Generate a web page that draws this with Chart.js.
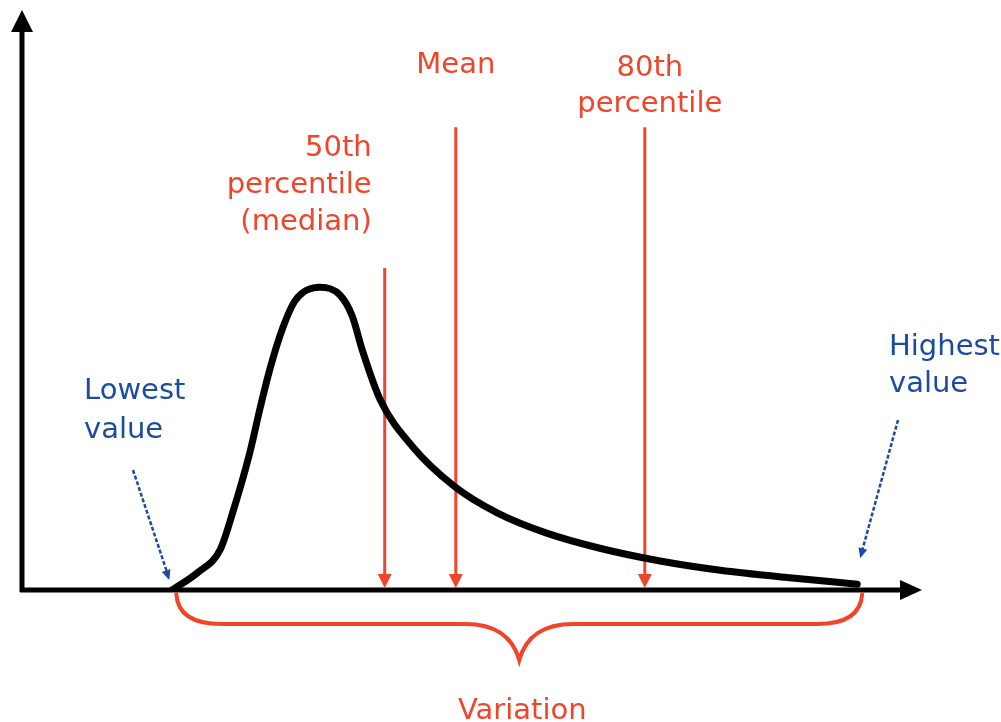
<!DOCTYPE html>
<html>
<head>
<meta charset="utf-8">
<script src="https://cdn.jsdelivr.net/npm/chart.js@4"></script>
<style>
  html, body { margin: 0; padding: 0; background: #fff; }
  canvas { display: block; }
</style>
</head>
<body>
<canvas id="dist" width="1001" height="722"></canvas>
<script>
(function () {
  "use strict";

  // curve (x 0..100 along the axis, y 0..100 up)
  var curveX = [16.7, 19.6, 22.0, 23.4, 25.3, 26.4, 27.6, 29.0, 30.4, 33.1, 35.3, 36.7, 37.8, 39.8, 43.4, 48.1, 52.8, 58.3, 64.2, 70.9, 77.6, 85.3, 92.8];
  var curveY = [0, 3.1, 6.9, 13.3, 23.6, 31.0, 38.4, 45.3, 50.0, 52.2, 50.9, 47.2, 41.4, 32.8, 24.7, 17.8, 13.3, 9.8, 7.2, 5.0, 3.4, 2.1, 1.0];

  // median, mean, 80th percentile
  var markerX = [40.3, 48.2, 69.2];
  var markerTop = [55.5, 79.8, 79.8];
  var markerLabels = [
    ["50th", "percentile", "(median)"],
    ["Mean"],
    ["80th", "percentile"]
  ];
  var lowLabel = ["Lowest", "value"];
  var highLabel = ["Highest", "value"];
  var braceLabel = "Variation";

  var RED = "#f1452b";
  var BLUE = "#1b4c9f";
  var FONT = '29px "DejaVu Sans", Verdana, sans-serif';

  function arrowHead(ctx, x, y, angle, len, half) {
    ctx.save();
    ctx.translate(x, y);
    ctx.rotate(angle);
    ctx.beginPath();
    ctx.moveTo(0, 0);
    ctx.lineTo(-len, -half);
    ctx.lineTo(-len, half);
    ctx.closePath();
    ctx.fill();
    ctx.restore();
  }

  function lines(ctx, arr, x, y0, step, align) {
    ctx.textAlign = align;
    for (var i = 0; i < arr.length; i++) ctx.fillText(arr[i], x, y0 + i * step);
  }

  var diagram = {
    id: "diagram",
    beforeDatasetsDraw: function (chart) {
      var ctx = chart.ctx;
      var xs = chart.scales.x, ys = chart.scales.y;
      var a = chart.chartArea;
      var y0 = ys.getPixelForValue(0);

      ctx.save();
      // axes
      ctx.strokeStyle = "#000";
      ctx.fillStyle = "#000";
      ctx.lineWidth = 5;
      ctx.beginPath();
      ctx.moveTo(a.left - 2, y0);
      ctx.lineTo(a.right - 14, y0);
      ctx.moveTo(a.left, y0 + 2);
      ctx.lineTo(a.left, a.top + 18);
      ctx.stroke();
      arrowHead(ctx, a.right, y0, 0, 22, 10);
      arrowHead(ctx, a.left, a.top, -Math.PI / 2, 22, 11);

      // red marker arrows
      ctx.strokeStyle = RED;
      ctx.fillStyle = RED;
      ctx.lineWidth = 3;
      for (var i = 0; i < markerX.length; i++) {
        var mx = xs.getPixelForValue(markerX[i]);
        var top = ys.getPixelForValue(markerTop[i]);
        ctx.beginPath();
        ctx.moveTo(mx, top);
        ctx.lineTo(mx, y0 - 12);
        ctx.stroke();
        arrowHead(ctx, mx, y0 - 2, Math.PI / 2, 14, 7);
      }
      ctx.restore();
    },
    afterDatasetsDraw: function (chart) {
      var ctx = chart.ctx;
      var xs = chart.scales.x, ys = chart.scales.y;
      var y0 = ys.getPixelForValue(0);
      var lowX = xs.getPixelForValue(curveX[0]);
      var highX = xs.getPixelForValue(curveX[curveX.length - 1]);
      var highY = ys.getPixelForValue(curveY[curveY.length - 1]);

      ctx.save();
      ctx.font = FONT;
      ctx.textBaseline = "middle";

      // red labels
      ctx.fillStyle = RED;
      var m0 = xs.getPixelForValue(markerX[0]);
      var m1 = xs.getPixelForValue(markerX[1]);
      var m2 = xs.getPixelForValue(markerX[2]);
      lines(ctx, markerLabels[0], m0 - 13, 148, 37, "right");
      lines(ctx, markerLabels[1], m1, 65, 37, "center");
      lines(ctx, markerLabels[2], m2 + 5, 68, 36, "center");

      // brace
      var bl = lowX + 4, br = highX + 5, by = y0 + 34, mid = (bl + br) / 2, tip = y0 + 70;
      ctx.strokeStyle = RED;
      ctx.lineWidth = 4;
      ctx.lineCap = "round";
      ctx.beginPath();
      ctx.moveTo(bl, y0 + 4);
      ctx.quadraticCurveTo(bl + 2, by, bl + 45, by);
      ctx.lineTo(mid - 54, by);
      ctx.quadraticCurveTo(mid - 10, by, mid, tip);
      ctx.quadraticCurveTo(mid + 10, by, mid + 54, by);
      ctx.lineTo(br - 45, by);
      ctx.quadraticCurveTo(br - 2, by, br, y0 + 4);
      ctx.stroke();
      ctx.textAlign = "center";
      ctx.fillText(braceLabel, mid + 3, y0 + 121);

      // blue labels and pointers
      ctx.fillStyle = BLUE;
      ctx.strokeStyle = BLUE;
      lines(ctx, lowLabel, 84, 391, 39, "left");
      lines(ctx, highLabel, 889, 347, 37, "left");

      ctx.lineWidth = 2.5;
      ctx.lineCap = "butt";
      ctx.setLineDash([4, 2]);
      var lx0 = 133, ly0 = 470, lx1 = lowX - 4, ly1 = y0 - 14;
      ctx.beginPath();
      ctx.moveTo(lx0, ly0);
      ctx.lineTo(lx1, ly1);
      var hx0 = 898, hy0 = 420, hx1 = highX + 4, hy1 = highY - 30;
      ctx.moveTo(hx0, hy0);
      ctx.lineTo(hx1, hy1);
      ctx.stroke();
      ctx.setLineDash([]);
      arrowHead(ctx, lx1 + 1, ly1 + 4, Math.atan2(ly1 - ly0, lx1 - lx0), 10, 4.5);
      arrowHead(ctx, hx1 - 1, hy1 + 4, Math.atan2(hy1 - hy0, hx1 - hx0), 10, 4.5);
      ctx.restore();
    }
  };

  var points = curveX.map(function (x, i) {
    return { x: x, y: curveY[i] };
  });

  new Chart(document.getElementById("dist"), {
    type: "line",
    data: {
      datasets: [
        {
          data: points,
          borderColor: "#000",
          borderWidth: 7,
          pointRadius: 0,
          cubicInterpolationMode: "monotone",
          fill: false,
          borderCapStyle: "round",
          borderJoinStyle: "round"
        }
      ]
    },
    options: {
      responsive: false,
      animation: false,
      devicePixelRatio: 1,
      layout: { padding: { left: 22, right: 79, top: 10, bottom: 132 } },
      plugins: { legend: { display: false }, tooltip: { enabled: false } },
      scales: {
        x: { type: "linear", min: 0, max: 100, display: false },
        y: { type: "linear", min: 0, max: 100, display: false }
      }
    },
    plugins: [diagram]
  });
})();
</script>
</body>
</html>
